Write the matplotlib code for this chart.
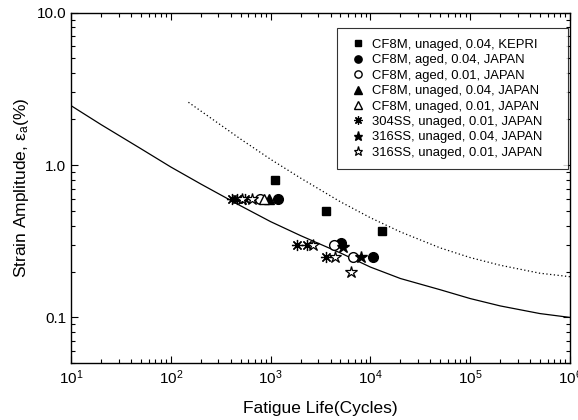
import matplotlib
matplotlib.use("Agg")
from matplotlib import pyplot as plt

plt.rcParams['font.family'] = ['Liberation Sans', 'DejaVu Sans']
plt.rcParams['mathtext.fontset'] = 'custom'
plt.rcParams['mathtext.rm'] = 'Liberation Sans'
plt.rcParams['mathtext.it'] = 'Liberation Sans'

# design curve (solid) and mean curve (dotted)
design_n = [10, 20, 50, 100, 200, 500, 1000, 2000, 5000, 1e4, 2e4, 5e4, 1e5, 2e5, 5e5, 1e6]
design_eps = [2.45, 1.84, 1.28, 0.97, 0.75, 0.54, 0.425, 0.344, 0.265, 0.214, 0.180, 0.152, 0.133, 0.119, 0.106, 0.100]
mean_n = [150, 200, 500, 1000, 2000, 5000, 1e4, 2e4, 5e4, 1e5, 2e5, 5e5, 1e6]
mean_eps = [2.58, 2.26, 1.48, 1.09, 0.82, 0.574, 0.451, 0.364, 0.286, 0.247, 0.220, 0.195, 0.185]

# test data
cf8m_kepri_n = [1100, 3550, 13200]
cf8m_kepri_eps = [0.80, 0.50, 0.37]
cf8m_aged04_n = [1175, 5130, 10700]
cf8m_aged04_eps = [0.60, 0.31, 0.25]
cf8m_aged01_n = [780, 4270, 6760]
cf8m_aged01_eps = [0.60, 0.30, 0.25]
cf8m_unaged04_n = [960]
cf8m_unaged04_eps = [0.60]
cf8m_unaged01_n = [850]
cf8m_unaged01_eps = [0.60]
ss304_n = [410, 460, 560, 1820, 2340, 3550]
ss304_eps = [0.60, 0.60, 0.60, 0.30, 0.30, 0.25]
ss316_04_n = [5370, 8130]
ss316_04_eps = [0.29, 0.25]
ss316_01_n = [515, 650, 2630, 4470, 6460]
ss316_01_eps = [0.60, 0.60, 0.30, 0.25, 0.20]

fig = plt.figure(figsize=(5.78, 4.2), dpi=100)
ax = fig.add_axes([0.123, 0.135, 0.863, 0.835])

ax.plot(design_n, design_eps, color='black', lw=0.9)
ax.plot(mean_n, mean_eps, color='black', lw=0.9, linestyle=(0, (1, 2)))

ast = (8, 2, 0)
ax.plot(cf8m_kepri_n, cf8m_kepri_eps, 's', color='black', ms=6, ls='none', label='CF8M, unaged, 0.04, KEPRI')
ax.plot(cf8m_aged04_n, cf8m_aged04_eps, 'o', color='black', ms=7, ls='none', label='CF8M, aged, 0.04, JAPAN')
ax.plot(cf8m_aged01_n, cf8m_aged01_eps, 'o', mfc='white', mec='black', ms=7, ls='none', label='CF8M, aged, 0.01, JAPAN')
ax.plot(cf8m_unaged04_n, cf8m_unaged04_eps, '^', color='black', ms=7, ls='none', label='CF8M, unaged, 0.04, JAPAN')
ax.plot(cf8m_unaged01_n, cf8m_unaged01_eps, '^', mfc='white', mec='black', ms=7, ls='none', label='CF8M, unaged, 0.01, JAPAN')
ax.plot(ss304_n, ss304_eps, marker=ast, color='black', ms=8, mew=0.9, ls='none', label='304SS, unaged, 0.01, JAPAN')
ax.plot(ss316_04_n, ss316_04_eps, '*', color='black', ms=9, ls='none', label='316SS, unaged, 0.04, JAPAN')
ax.plot(ss316_01_n, ss316_01_eps, '*', mfc='white', mec='black', ms=9, mew=0.9, ls='none', label='316SS, unaged, 0.01, JAPAN')

ax.set_xscale('log')
ax.set_yscale('log')
ax.set_xlim(10, 1e6)
ax.set_ylim(0.05, 10)
ax.set_yticks([0.1, 1, 10])
ax.set_yticklabels(['0.1', '1.0', '10.0'])
ax.tick_params(which='both', direction='in', top=True, right=True, labelsize=11, width=0.8)
ax.tick_params(which='major', length=5)
ax.tick_params(which='minor', length=3)
for s in ax.spines.values():
    s.set_linewidth(1.0)

ax.set_xlabel('Fatigue Life(Cycles)', fontsize=12.5, labelpad=10)
ax.set_ylabel('Strain Amplitude, ε$_a$(%)', fontsize=12.5)

# legend box spans the reference frame, content left aligned
leg = ax.legend(loc='upper left', bbox_to_anchor=(0.533, 0.855, 0.463, 0.1), mode='expand',
                fontsize=9.4, frameon=True, fancybox=False, edgecolor='black',
                handlelength=1.6, labelspacing=0.25, borderpad=0.8, handletextpad=0.3,
                numpoints=1, markerscale=0.75, borderaxespad=0)
leg.get_frame().set_linewidth(0.8)

fig.savefig('out.png', dpi=100)
